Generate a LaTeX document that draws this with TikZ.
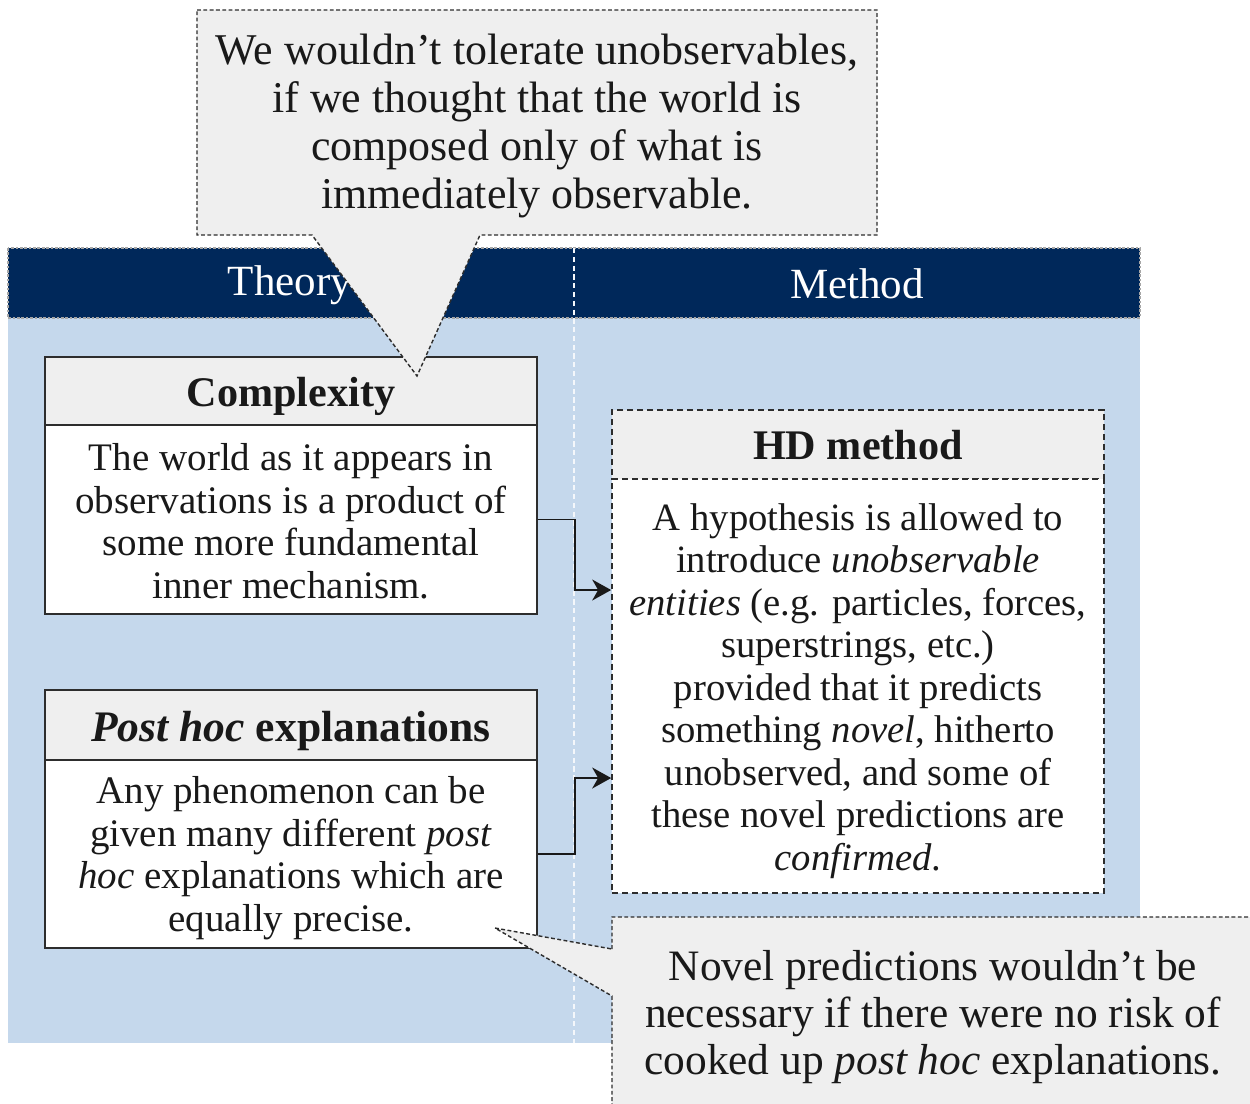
\documentclass[tikz,border=0pt]{standalone}
\usepackage{fontspec}
\setmainfont{Liberation Serif}
\usetikzlibrary{arrows.meta,calc}
\definecolor{navy}{RGB}{0,40,90}
\definecolor{paleblue}{RGB}{197,216,236}
\definecolor{notegray}{RGB}{239,239,239}
\definecolor{inkc}{RGB}{25,25,25}
\definecolor{edgec}{RGB}{45,45,45}
\newcommand\fbody{\fontsize{22.2pt}{24.2pt}\selectfont}
\newcommand\ftitle{\fontsize{24pt}{26pt}\selectfont\bfseries}
\newcommand\fcall{\fontsize{25pt}{27.4pt}\selectfont}
\newcommand\fcallb{\fontsize{24.7pt}{26.9pt}\selectfont}
\newcommand\fhead{\fontsize{24.5pt}{27pt}\selectfont}
\tikzset{
  boxtitle/.style={draw=edgec, line width=1pt, fill=notegray, minimum width=9.84cm, inner sep=0pt},
  boxbody/.style={draw=edgec, line width=1pt, fill=white, minimum width=9.84cm, inner sep=0pt},
  titletext/.style={align=center, font=\ftitle, text=inkc, inner sep=0pt},
  bodytext/.style={align=center, font=\fbody, text=inkc, inner sep=0pt},
  dashbox/.style={dash pattern=on 3.4pt off 2.3pt},
  flow/.style={draw=inkc, line width=1.1pt, -{Stealth[length=0.38cm,width=0.42cm,inset=0.12cm]}},
  note/.style={draw=edgec, fill=notegray, line width=0.8pt, dash pattern=on 2.2pt off 1.4pt, line join=miter},
  notetext/.style={align=center, font=\fcall, text=inkc, inner sep=0pt},
  headtext/.style={font=\fhead, text=white, inner sep=0pt}
}
\begin{document}
\begin{tikzpicture}[x=0.02cm, y=-0.02cm]
\clip (0,0) rectangle (1250,1103);
\fill[white] (0,0) rectangle (1250,1103);
% panel
\fill[paleblue] (8,248) rectangle (1140,1043);
\draw[fill=navy, draw=gray!70, line width=0.6pt, dash pattern=on 1.5pt off 1pt] (8,248) rectangle (1140,318);
\draw[white!80!paleblue, line width=0.8pt, dash pattern=on 3pt off 2pt] (574,248) -- (574,1043);
\node[headtext] (theory) at (290,285) {Theory};
\node[headtext] (method) at (857,284) {Method};
% Complexity
\node[boxtitle, minimum height=1.36cm] (cTitle) at (291,391) {};
\node[boxbody, minimum height=3.78cm] (cBody) at (291,519.5) {};
\node[titletext] (cTitleText) at ($(cTitle.center)+(0,5)$) {Complexity};
\node[bodytext] (cBodyText) at ($(cBody.center)+(0,1.5)$) {The world as it appears in\\observations is a product of\\some more fundamental\\inner mechanism.};
% Post hoc
\node[boxtitle, minimum height=1.40cm] (pTitle) at (291,725) {};
\node[boxbody, minimum height=3.76cm] (pBody) at (291,854) {};
\node[titletext, font=\fontsize{24.8pt}{27pt}\selectfont\bfseries] (pTitleText) at ($(pTitle.center)+(0,6)$) {\textit{Post hoc} explanations};
\node[bodytext] (pBodyText) at ($(pBody.center)+(0,4)$) {Any phenomenon can be\\given many different \textit{post}\\\textit{hoc} explanations which are\\equally precise.};
% HD method
\node[boxtitle, dashbox, minimum height=1.38cm] (hTitle) at (858,444.5) {};
\node[boxbody, dashbox, minimum height=8.28cm] (hBody) at (858,686) {};
\node[titletext] (hTitleText) at ($(hTitle.center)+(0,0.5)$) {HD method};
\node[bodytext, font=\fontsize{22pt}{24.2pt}\selectfont] (hBodyText) at ($(hBody.center)+(0,5)$) {A hypothesis is allowed to\\introduce \textit{unobservable}\\\textit{entities} (e.g. particles, forces,\\superstrings, etc.)\\provided that it predicts\\something \textit{novel}, hitherto\\unobserved, and some of\\these novel predictions are\\\textit{confirmed}.};
% connectors
\draw[flow] (cBody.east) -- (575,519.5) |- ($(hBody.west)+(0,-96)$);
\draw[flow] (pBody.east) -- (575,854) |- ($(hBody.west)+(0,92)$);
% top callout
\draw[note] (197,10) -- (877,10) -- (877,235) -- (480,235) -- (417,376) -- (312,235) -- (197,235) -- cycle;
\node[notetext] (topNote) at (537,126) {We wouldn’t tolerate unobservables,\\if we thought that the world is\\composed only of what is\\immediately observable.};
% bottom callout
\draw[note] (612,949) -- (612,917) -- (1254,917) -- (1254,1110) -- (612,1110) -- (612,996) -- (495,928) -- cycle;
\node[notetext, font=\fcallb] (botNote) at (933,1017) {Novel predictions wouldn’t be\\necessary if there were no risk of\\cooked up \textit{post hoc} explanations.};
\end{tikzpicture}
\end{document}
